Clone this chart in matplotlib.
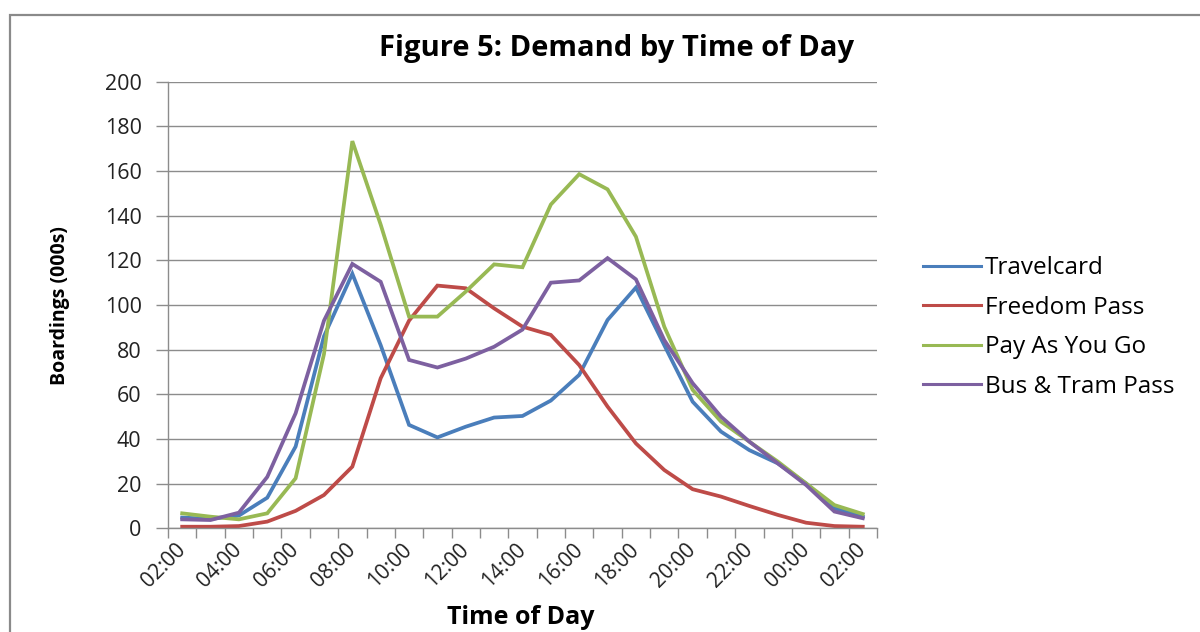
import matplotlib.pyplot as plt
from matplotlib.patches import Rectangle
from matplotlib.ticker import FixedLocator, MultipleLocator
import numpy as np

# hourly boardings (000s), 02:00 through 02:00 the next day
hours = ['02:00', '03:00', '04:00', '05:00', '06:00', '07:00', '08:00', '09:00',
         '10:00', '11:00', '12:00', '13:00', '14:00', '15:00', '16:00', '17:00',
         '18:00', '19:00', '20:00', '21:00', '22:00', '23:00', '00:00', '01:00',
         '02:00']
travelcard = [4.8, 4.2, 5.7, 13.7, 36.6, 86, 114, 82, 46.3, 40.7, 45.5, 49.6,
              50.3, 57.2, 68.7, 93.3, 107.8, 82, 56.7, 43.3, 35, 29.1, 20.1, 9, 5.2]
freedom = [0.7, 0.7, 1, 3, 7.8, 14.9, 27.6, 67.2, 93, 108.7, 107.5, 98.5,
           90.3, 86.6, 73.1, 54.5, 38, 26.1, 17.5, 14.2, 10, 6, 2.5, 1, 0.7]
payg = [6.7, 5.2, 4, 6.7, 22.4, 78, 173.4, 136, 94.8, 94.8, 106, 118.2,
        116.9, 145, 158.6, 151.8, 130.6, 90.3, 62, 47.8, 38.8, 29.9, 20.1, 10.4, 6.4]
bus_tram = [4, 3.7, 7, 23, 51.5, 93, 118.4, 110.4, 75.4, 72, 76, 81.3,
            89, 110, 111, 121, 111.5, 84.3, 65, 50, 38.8, 29.1, 19.4, 7.5, 4.5]

series = [('Travelcard', travelcard, '#4A7EBB'),
          ('Freedom Pass', freedom, '#BE4B48'),
          ('Pay As You Go', payg, '#98B954'),
          ('Bus & Tram Pass', bus_tram, '#7D60A0')]

plt.rcParams['font.family'] = ['Open Sans', 'DejaVu Sans']
grey = '#8C8C8C'

fig = plt.figure(figsize=(12, 6.32), dpi=100)
ax = fig.add_axes([0.14, 0.1641, 0.5908, 0.7066])

# outer chart frame (runs off the right and bottom edges)
fig.patches.append(Rectangle((10 / 1200, -0.1), 1.2, 1 - 15 / 632 + 0.1,
                             transform=fig.transFigure, fill=False,
                             edgecolor='#8A8A8A', lw=1.6))

x = np.arange(len(hours))
for name, vals, col in series:
    ax.plot(x, vals, color=col, lw=2.7, label=name, solid_joinstyle='miter')

ax.set_xlim(-0.5, len(hours) - 0.5)
ax.set_ylim(0, 200)
ax.yaxis.set_major_locator(MultipleLocator(20))
ax.grid(axis='y', color=grey, lw=1)
ax.set_axisbelow(True)

ax.set_xticks(x[::2])
ax.set_xticklabels(hours[::2], rotation=45, ha='right', va='center',
                   rotation_mode='anchor', fontsize=15, color='#222222')
ax.tick_params(axis='x', which='major', length=0, pad=13)
ax.xaxis.set_minor_locator(FixedLocator(np.arange(-0.5, len(hours), 1)))
ax.tick_params(axis='x', which='minor', length=7, color=grey, width=1)
ax.tick_params(axis='y', length=9, color=grey, width=1, pad=10,
               labelsize=15.5, labelcolor='#222222')

for s in ('top', 'right'):
    ax.spines[s].set_visible(False)
for s in ('left', 'bottom'):
    ax.spines[s].set_color(grey)
    ax.spines[s].set_linewidth(1)

fig.text(0.514, 0.923, 'Figure 5: Demand by Time of Day', ha='center',
         va='center', fontsize=21, fontweight='bold')
fig.text(0.05, 0.517, 'Boardings (000s)', ha='center', va='center',
         rotation=90, fontsize=14, fontweight='bold')
fig.text(0.434, 0.003, 'Time of Day', ha='center', va='bottom',
         fontsize=18, fontweight='bold')

leg = ax.legend(loc='center left', bbox_to_anchor=(0.769, 0.482),
                bbox_transform=fig.transFigure, frameon=False, fontsize=17.5,
                handlelength=2.4, handletextpad=0.15, labelspacing=0.64,
                borderaxespad=0, borderpad=0)
for h in leg.get_lines():
    h.set_linewidth(2.2)

fig.savefig('out.png', dpi=100)
